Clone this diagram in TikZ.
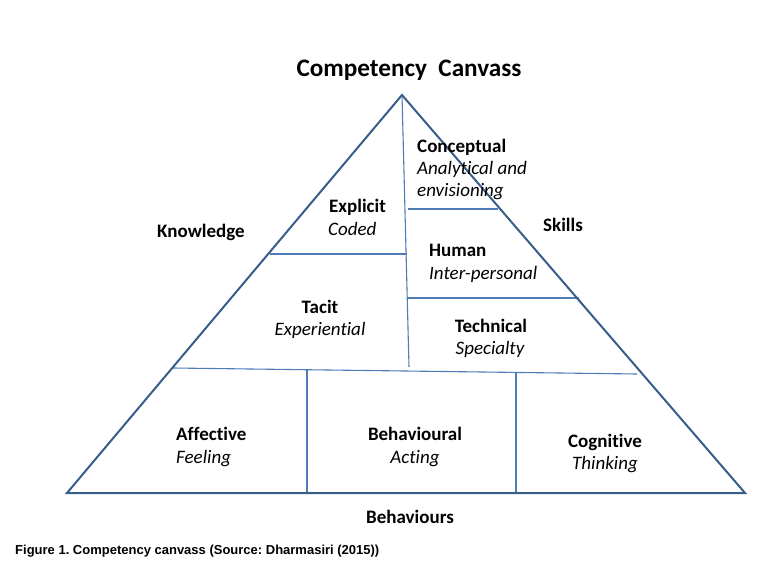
\documentclass[tikz,border=0pt]{standalone}
\usepackage{fontspec}
\setmainfont[Ligatures=NoCommon]{Carlito}
\newfontfamily\capfont{Liberation Sans}
\definecolor{outline}{HTML}{385D8A}
\definecolor{inner}{HTML}{4F7CB8}
\frenchspacing
\begin{document}
\begin{tikzpicture}[x=1pt,y=-1pt,
  outer/.style={draw=outline,line width=2pt,line join=miter},
  divider/.style={draw=inner,line width=1.1pt},
  head/.style={font=\fontsize{19}{22}\selectfont\bfseries,inner sep=0pt},
  sub/.style={font=\fontsize{19}{22}\selectfont\itshape,inner sep=0pt}]
\useasboundingbox (0,0) rectangle (770,572);
% corners
\coordinate (A) at (402,95);
\coordinate (BL) at (67,493);
\coordinate (BR) at (745,493);
% divider end points
\coordinate (vEnd) at (409,367);
\coordinate (k1) at (270,254); \coordinate (k2) at (407,254);
\coordinate (s1a) at (408,209); \coordinate (s1b) at (498,209);
\coordinate (s2a) at (408,298); \coordinate (s2b) at (579,298);
\coordinate (h1) at (173,368); \coordinate (h2) at (637,374);
\coordinate (v1t) at (307,369); \coordinate (v1b) at (307,493);
\coordinate (v2t) at (516,372); \coordinate (v2b) at (516,493);
% dividers
\draw[divider] (A) -- (vEnd);
\draw[divider] (k1) -- (k2);
\draw[divider] (s1a) -- (s1b);
\draw[divider] (s2a) -- (s2b);
\draw[divider] (h1) -- (h2);
\draw[divider] (v1t) -- (v1b);
\draw[divider] (v2t) -- (v2b);
% triangle
\draw[outer] (A) -- (BR) -- (BL) -- cycle;
% title and side labels
\node[head,font=\fontsize{25.2}{28}\selectfont\bfseries,anchor=base] (title) at (409,77) {Competency\ \ Canvass};
\node[head,anchor=base west] (know) at (157,237) {Knowledge};
\node[head,anchor=base west] (skills) at (543,231) {Skills};
\node[head,anchor=base] (beh) at (410,523) {Behaviours};
% knowledge cells
\node[head,anchor=base west] (expl) at (329,212) {Explicit};
\node[sub,anchor=base west] (coded) at (328,235) {Coded};
\node[head,anchor=base] (tacit) at (320,313) {Tacit};
\node[sub,anchor=base] (exper) at (320,335) {Experiential};
% skills cells
\node[head,anchor=base west] (conc) at (417,153) {Conceptual};
\node[sub,anchor=base west] (anal) at (417,174.5) {Analytical and};
\node[sub,anchor=base west] (envi) at (417,196) {envisioning};
\node[head,anchor=base west] (human) at (429,256) {Human};
\node[sub,anchor=base west] (inter) at (429,279) {Inter-personal};
\node[head,anchor=base] (tech) at (491,332) {Technical};
\node[sub,anchor=base] (spec) at (490,354) {Specialty};
% behaviour cells
\node[head,anchor=base west] (aff) at (176,440) {Affective};
\node[sub,anchor=base west] (feel) at (176,463) {Feeling};
\node[head,anchor=base] (behav) at (415,440) {Behavioural};
\node[sub,anchor=base] (act) at (415,463) {Acting};
\node[head,anchor=base] (cog) at (605,447) {Cognitive};
\node[sub,anchor=base] (think) at (605,469) {Thinking};
% caption
\node[inner sep=0pt,anchor=base west,font=\capfont\fontsize{13}{15}\selectfont\bfseries] (cap) at (15,554) {Figure 1. Competency canvass (Source: Dharmasiri (2015))};
\end{tikzpicture}
\end{document}
